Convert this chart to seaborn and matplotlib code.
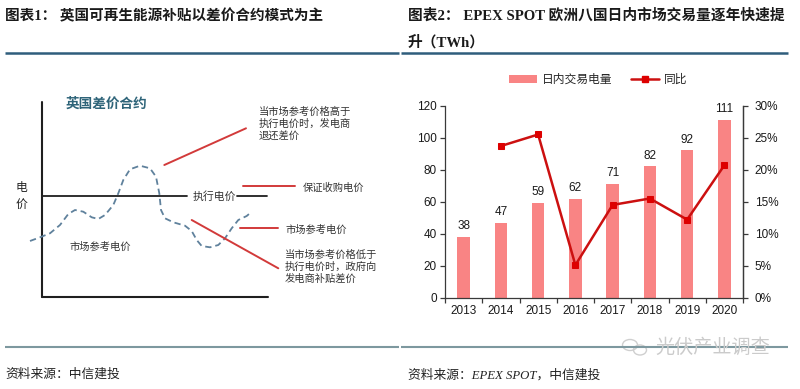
import numpy as np
import pandas as pd
import matplotlib
matplotlib.use("Agg")
import matplotlib.pyplot as plt
from matplotlib.patches import Patch, Ellipse
from matplotlib.lines import Line2D
from matplotlib.ticker import FuncFormatter, FixedLocator
import seaborn as sns

# ---------------- data (right chart) ----------------
years = ["2013", "2014", "2015", "2016", "2017", "2018", "2019", "2020"]
volume = [38, 47, 59, 62, 71, 82, 92, 111]           # 日内交易电量 (TWh)
yoy_years = ["2014", "2015", "2016", "2017", "2018", "2019", "2020"]
yoy = [23.7, 25.5, 5.1, 14.5, 15.5, 12.2, 20.7]      # 同比 (%)
left_ticks = [0, 20, 40, 60, 80, 100, 120]
right_ticks = [0, 5, 10, 15, 20, 25, 30]

# ---------------- schematic (left diagram), pixel space ----------------
curve_x = [30, 40, 50, 60, 68.3, 75, 83.3, 91.7, 98.3, 105, 113.3, 118.3, 123.3, 130, 140,
           150, 156, 159.3, 161, 165, 173.3, 185, 191.7, 196.7, 201.7, 210, 218.3, 225,
           231.7, 238.3, 246.7, 249]
curve_y = [241, 237.3, 233.3, 225, 214, 210, 211.7, 217.3, 219, 215, 205, 193.3, 180, 169.3,
           165.7, 168.3, 176.7, 193.3, 210, 218.3, 222.3, 225.7, 231, 240, 246, 247.3, 245,
           238.3, 228.3, 220, 216, 214]

sns.set_style("white")
plt.rcParams["font.family"] = ["Liberation Sans", "Noto Sans CJK SC"]
plt.rcParams["axes.unicode_minus"] = False

W, H = 800, 389
fig = plt.figure(figsize=(W / 100, H / 100), dpi=100)

# overlay axes in pixel coordinates
ov = fig.add_axes([0, 0, 1, 1], zorder=0)
ov.set_xlim(0, W)
ov.set_ylim(H, 0)
ov.axis("off")

serif_cjk = ["Liberation Serif", "Noto Sans CJK SC"]
title_col = "#1a1a1a"
rule_top = "#2F5D7C"
rule_bot = "#7D989F"

# headers
ov.text(5, 16, "图表1： 英国可再生能源补贴以差价合约模式为主", family=serif_cjk, fontweight="bold",
        fontsize=10.5, color=title_col, va="center", ha="left")
ov.text(408, 16, "图表2： EPEX SPOT 欧洲八国日内市场交易量逐年快速提", family=serif_cjk,
        fontweight="bold", fontsize=10.6, color=title_col, va="center", ha="left")
ov.text(408, 42, "升（TWh）", family=serif_cjk, fontweight="bold",
        fontsize=10.6, color=title_col, va="center", ha="left")
ov.plot([5, 399], [52.5, 52.5], color=rule_top, lw=1.8, solid_capstyle="butt")
ov.plot([401, 788], [52.5, 52.5], color=rule_top, lw=1.8, solid_capstyle="butt")
ov.plot([5, 399], [346.5, 346.5], color=rule_bot, lw=1.5, solid_capstyle="butt")
ov.plot([401, 788], [346.5, 346.5], color=rule_bot, lw=1.5, solid_capstyle="butt")
ov.text(5, 375, "资料来源：中信建投", family=serif_cjk, style="italic", fontsize=9.2,
        color="#222222", va="center", ha="left")
ov.text(408, 375, "资料来源：EPEX SPOT，中信建投", family=serif_cjk, style="italic", fontsize=9.2,
        color="#222222", va="center", ha="left")
# watermark
ov.text(655, 347, "光伏产业调查", fontsize=13.8, color="#CBCBCB", va="center", ha="left",
        family=["Noto Sans CJK SC"])
ov.add_patch(Ellipse((630, 345), 15, 11, fill=False, ec="#CFCFCF", lw=1.0))
ov.add_patch(Ellipse((640, 350), 13, 10, fill=False, ec="#CFCFCF", lw=1.0))

# ---------------- left diagram ----------------
ax_col = "#1f1f1f"
red = "#D23A3A"
ov.plot([41.7, 41.7], [101.7, 297], color=ax_col, lw=1.5)
ov.plot([41.7, 268], [297, 297], color=ax_col, lw=1.5)
ov.plot([41.7, 186.7], [196, 196], color=ax_col, lw=1.3)
ov.plot([237, 267], [196, 196], color=ax_col, lw=1.3)
ov.text(193, 196.5, "执行电价", fontsize=7.8, color="#333333", va="center", ha="left")
ov.text(21, 188, "电", fontsize=8.5, color="#222222", va="center", ha="center")
ov.text(21, 206, "价", fontsize=8.5, color="#222222", va="center", ha="center")
ov.text(66, 104, "英国差价合约", fontsize=9.8, fontweight="bold", color="#2E6479",
        va="center", ha="left")
sns.lineplot(x=curve_x, y=curve_y, ax=ov, color="#5F819C", lw=1.3, linestyle=(0, (3.5, 2.2)),
             sort=False, estimator=None)
ov.set_xlim(0, W)
ov.set_ylim(H, 0)
ov.plot([164.3, 246], [165, 128.3], color=red, lw=1.4)
ov.plot([243.3, 295], [186, 186], color=red, lw=1.4)
ov.plot([240, 278.3], [228.3, 228.3], color=red, lw=1.4)
ov.plot([191.7, 278.3], [220, 268.3], color=red, lw=1.4)
tsz = 7.4
ov.text(259, 106.5, "当市场参考价格高于\n执行电价时，发电商\n退还差价", fontsize=tsz, color="#333333",
        va="top", ha="left", linespacing=1.22)
ov.text(303, 188, "保证收购电价", fontsize=tsz, color="#333333", va="center", ha="left")
ov.text(285, 229.5, "市场参考电价", fontsize=tsz, color="#333333", va="center", ha="left")
ov.text(285, 250, "当市场参考价格低于\n执行电价时，政府向\n发电商补贴差价", fontsize=tsz,
        color="#333333", va="top", ha="left", linespacing=1.22)
ov.text(69, 247, "市场参考电价", fontsize=tsz, color="#333333", va="center", ha="left")

# ---------------- right chart ----------------
x0, x1, ytop, ybot = 445, 743, 105.7, 297.7
ax = fig.add_axes([x0 / W, 1 - ybot / H, (x1 - x0) / W, (ybot - ytop) / H], zorder=2)
ax.patch.set_alpha(0)
bar_col = "#F98484"
line_col = "#CC1010"
df_bar = pd.DataFrame({"year": years, "volume": volume})
sns.barplot(data=df_bar, x="year", y="volume", color=bar_col, width=0.34, ax=ax,
            saturation=1, edgecolor="none")
ax.set_xlim(-0.5, len(years) - 0.5)
ax.set_ylim(0, 120)
ax.set_yticks(left_ticks)
ax.set_xlabel("")
ax.set_ylabel("")
for i, v in enumerate(volume):
    ax.annotate(str(v), (i, v), xytext=(0, 3.5), textcoords="offset points", ha="center",
                va="bottom", fontsize=8.5, color="#1a1a1a")

spine_col = "#3a3a3a"
for s in ["left", "right", "bottom"]:
    ax.spines[s].set_color(spine_col)
    ax.spines[s].set_linewidth(0.9)
ax.spines["top"].set_visible(False)
ax.tick_params(axis="y", direction="out", length=3.5, width=0.9, color=spine_col,
               labelsize=8.5, pad=2.5, labelcolor="#1a1a1a", left=True)
ax.tick_params(axis="x", which="major", length=0, labelsize=8.5, pad=5, labelcolor="#1a1a1a")
ax.xaxis.set_minor_locator(FixedLocator(np.arange(-0.5, len(years), 1.0)))
ax.tick_params(axis="x", which="minor", direction="out", length=3.5, width=0.9,
               color=spine_col, bottom=True)

ax2 = ax.twinx()
pos = [years.index(y) for y in yoy_years]
df_line = pd.DataFrame({"pos": pos, "yoy": yoy})
sns.lineplot(data=df_line, x="pos", y="yoy", ax=ax2, color=line_col, lw=1.8, marker="s",
             markersize=5, markeredgecolor="#DD0000", markerfacecolor="#DD0000")
ax2.set_ylim(0, 30)
ax2.set_yticks(right_ticks)
ax2.yaxis.set_major_formatter(FuncFormatter(lambda v, p: f"{int(v)}%"))
ax2.set_xlim(-0.5, len(years) - 0.5)
ax2.set_ylabel("")
ax2.spines["top"].set_visible(False)
ax2.spines["right"].set_color(spine_col)
ax2.spines["right"].set_linewidth(0.9)
ax2.spines["left"].set_visible(False)
ax2.spines["bottom"].set_visible(False)
ax2.tick_params(axis="y", direction="out", length=3.5, width=0.9, color=spine_col,
                labelsize=8.5, pad=5, labelcolor="#1a1a1a", right=True)

handles = [Patch(facecolor=bar_col, edgecolor="none"),
           Line2D([0], [0], color=line_col, lw=1.8, marker="s", markersize=4.5,
                  markerfacecolor="#DD0000", markeredgecolor="#DD0000")]
fig.legend(handles, ["日内交易电量", "同比"], loc="center", bbox_to_anchor=(598 / W, 1 - 80 / H),
           ncol=2, frameon=False, fontsize=8.5, handlelength=2.4, handleheight=0.6,
           columnspacing=1.6, handletextpad=0.4)

fig.savefig("out.png", dpi=100)
